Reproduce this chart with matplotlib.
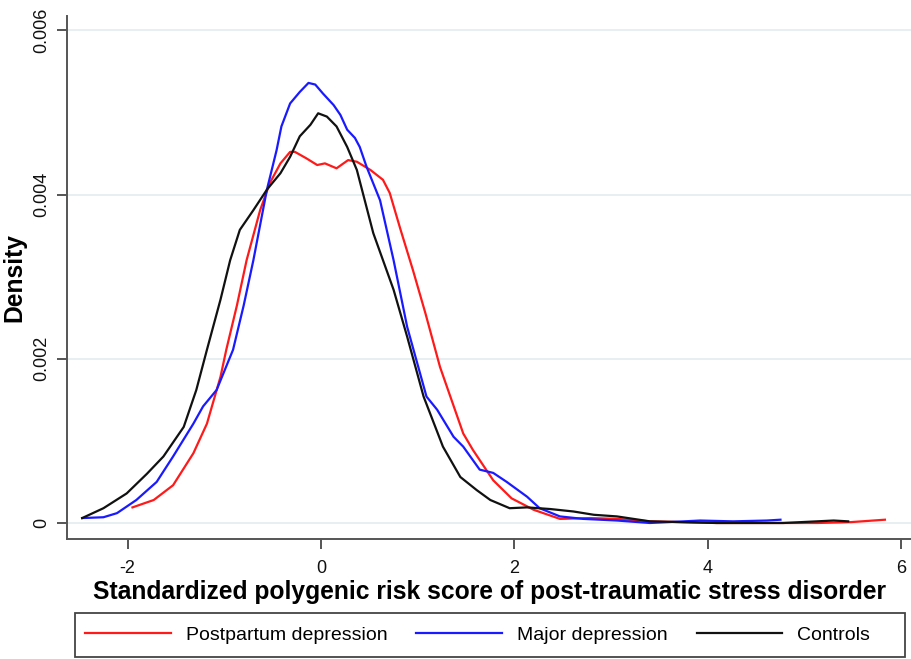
import matplotlib
matplotlib.use("Agg")
import matplotlib.pyplot as plt
from matplotlib.patches import Rectangle
from matplotlib.lines import Line2D

plt.rcParams['font.family'] = ['Liberation Sans', 'DejaVu Sans']

# Postpartum depression
pp_x = [-1.95, -1.73, -1.53, -1.32, -1.18, -1.04, -0.98, -0.87, -0.77, -0.63, -0.53, -0.42, -0.32,
        -0.27, -0.15, -0.04, 0.04, 0.16, 0.28, 0.37, 0.51, 0.64, 0.71, 0.82, 0.95, 1.08, 1.23, 1.47,
        1.57, 1.78, 1.97, 2.20, 2.47, 2.78, 3.06, 3.40, 4.09, 5.13, 5.47, 5.83]
pp_y = [.00019, .00028, .00046, .00085, .00121, .00178, .00211, .00265, .0032, .00381, .00414, .00438,
        .00452, .00452, .00444, .00436, .00438, .00432, .00442, .0044, .0043, .00418, .00402, .00358,
        .00308, .00255, .0019, .00109, .00089, .00052, .0003, .00016, .00005, .00006, .00005, .00002,
        0.0, 0.0, .00001, .00004]

# Major depression
md_x = [-2.47, -2.25, -2.11, -1.91, -1.70, -1.53, -1.32, -1.22, -1.08, -0.91, -0.80, -0.70, -0.56,
        -0.46, -0.41, -0.32, -0.22, -0.13, -0.06, 0.02, 0.13, 0.20, 0.27, 0.35, 0.40, 0.47, 0.61,
        0.75, 0.89, 1.09, 1.20, 1.37, 1.47, 1.64, 1.78, 1.92, 2.13, 2.26, 2.47, 2.71, 3.06,
        3.40, 3.75, 3.92, 4.26, 4.61, 4.75]
md_y = [.00006, .00007, .00012, .00028, .0005, .00081, .00121, .00142, .00162, .00211, .00265, .0032,
        .00406, .00454, .00483, .00511, .00525, .00536, .00534, .00523, .00509, .00497, .00479, .00469,
        .00458, .00434, .00393, .0032, .00239, .00154, .00138, .00105, .00093, .00065, .00061,
        .0005, .00032, .00018, .00008, .00005, .00003, 0.0, .00002, .00003, .00002, .00003, .00004]

# Controls
ct_x = [-2.47, -2.25, -2.01, -1.80, -1.63, -1.42, -1.29, -1.18, -1.04, -0.94, -0.84, -0.70, -0.56,
        -0.42, -0.32, -0.22, -0.11, -0.03, 0.06, 0.16, 0.27, 0.37, 0.54, 0.75, 0.89, 1.06,
        1.26, 1.44, 1.61, 1.75, 1.95, 2.13, 2.37, 2.61, 2.82, 3.06, 3.40, 4.09, 4.78, 5.30, 5.45]
ct_y = [.00006, .00018, .00036, .0006, .00081, .00117, .00162, .00211, .00272, .0032, .00357, .00381,
        .00406, .00426, .00446, .00471, .00485, .00499, .00495, .00483, .00458, .0043, .00353, .00284,
        .00227, .00154, .00093, .00056, .0004, .00028, .00018, .00019, .00017, .00014, .0001,
        .00008, .00002, 0.0, 0.0, .00003, .00002]

series_names = ["Postpartum depression", "Major depression", "Controls"]
series_colors = ["#ff1a1a", "#1a1aff", "#111111"]

x_ticks = [-2, 0, 2, 4, 6]
y_ticks = [0, 0.002, 0.004, 0.006]
y_tick_labels = ["0", "0.002", "0.004", "0.006"]

W, H = 912, 659
fig = plt.figure(figsize=(W / 100, H / 100), dpi=100)
ax = fig.add_axes([66.7 / W, 1 - 539 / H, 1 - 66.7 / W, (539 - 16) / H])

for xs, ys, c in zip([pp_x, md_x, ct_x], [pp_y, md_y, ct_y], series_colors):
    ax.plot(xs, ys, color=c, lw=1.6, solid_joinstyle='round')

ax.set_xlim(-2.63, 6.11)
ax.set_ylim(-0.000195, 0.006175)
ax.set_xticks(x_ticks)
ax.set_xticklabels([str(t) for t in x_ticks])
ax.set_yticks(y_ticks)
ax.set_yticklabels(y_tick_labels, rotation=90, va='center')
for g in y_ticks:
    ax.axhline(g, color='#e3ecef', lw=1.2, zorder=0)

for s in ['top', 'right']:
    ax.spines[s].set_visible(False)
for s in ['left', 'bottom']:
    ax.spines[s].set_color('#555555')
    ax.spines[s].set_linewidth(1.4)
ax.tick_params(axis='both', direction='out', length=7, width=1.4, color='#555555',
               labelsize=13, labelcolor='#111111')
ax.tick_params(axis='x', pad=8)
ax.tick_params(axis='y', pad=5)

ax.set_xlabel("Standardized polygenic risk score of post-traumatic stress disorder",
              fontsize=17.7, fontweight='bold', labelpad=2)
ax.set_ylabel("Density", fontsize=17.7, fontweight='bold', labelpad=5)

# legend frame
fig.patches.append(Rectangle((75 / W, 1 - 657 / H), 830 / W, 44 / H, transform=fig.transFigure,
                             fill=False, edgecolor='#444444', lw=1.3))
handles = [Line2D([], [], color=c, lw=1.6) for c in series_colors]
fig.legend(handles, series_names, loc='center left', bbox_to_anchor=(85 / W, 1 - 635 / H),
           ncol=3, frameon=False, fontsize=14, handlelength=4.4, handletextpad=0.77,
           columnspacing=1.5, borderaxespad=0, borderpad=0)

fig.savefig("out.png", dpi=100)
